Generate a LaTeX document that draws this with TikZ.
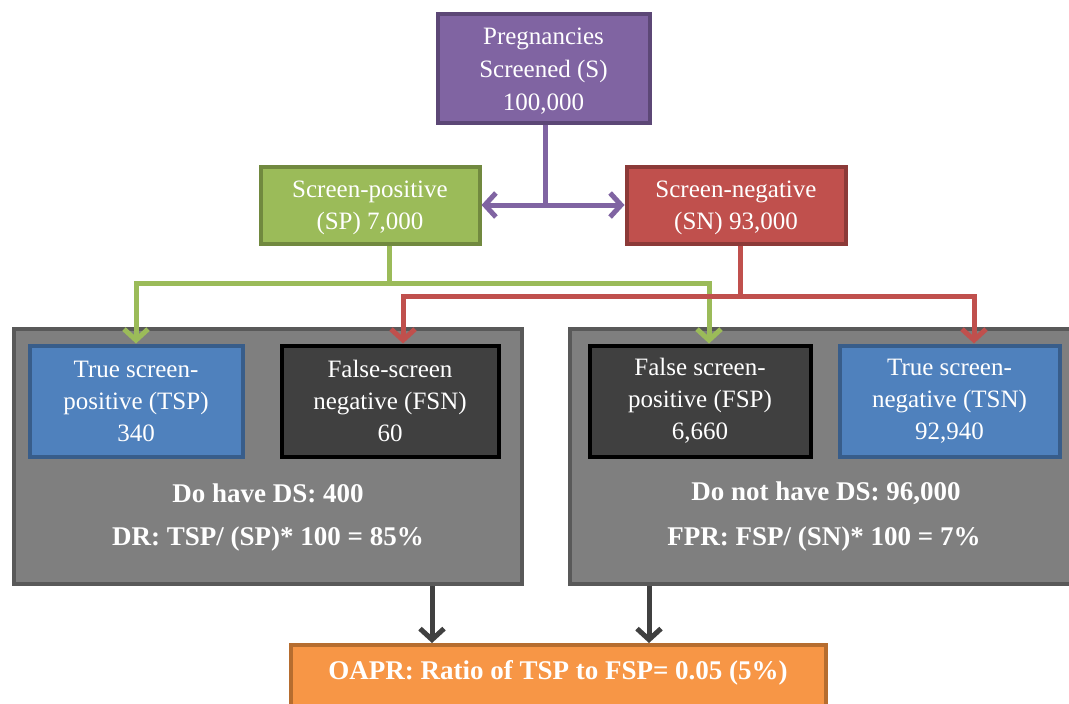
\documentclass[tikz,border=0pt]{standalone}
\usepackage{fontspec}
\setmainfont{Liberation Serif}
\usetikzlibrary{arrows.meta}
\definecolor{purF}{HTML}{8064A2}\definecolor{purD}{HTML}{5C4776}
\definecolor{grnF}{HTML}{9BBB59}\definecolor{grnD}{HTML}{71893F}
\definecolor{redF}{HTML}{C0504D}\definecolor{redD}{HTML}{8C3A38}
\definecolor{bluF}{HTML}{4F81BD}\definecolor{bluD}{HTML}{385D8A}
\definecolor{drkF}{HTML}{404040}
\definecolor{gryF}{HTML}{7F7F7F}\definecolor{gryD}{HTML}{595959}
\definecolor{orgF}{HTML}{F79646}\definecolor{orgD}{HTML}{B66D2F}
\tikzset{
  box/.style={draw, line width=4pt, text=white, align=center, inner sep=0pt,
    font=\fontsize{25}{32}\selectfont},
  boxtxt/.style={text=white, align=center, inner sep=0pt, font=\fontsize{25}{32}\selectfont},
  bigbox/.style={draw=gryD, fill=gryF, line width=4pt, inner sep=0pt},
  boldtxt/.style={text=white, inner sep=0pt, font=\fontsize{27}{30}\selectfont\bfseries},
  tip/.tip={Straight Barb[length=11pt,width=24pt]},
  conn/.style={line width=5pt, -tip},
  link/.style={line width=5pt}
}
\begin{document}
\begin{tikzpicture}[x=1pt,y=-1pt]
\useasboundingbox (0,0) rectangle (1069,704);
\clip (0,0) rectangle (1069,704);
\fill[white] (0,0) rectangle (1069,704);
% top
\node[box, draw=purD, fill=purF, minimum width=212, minimum height=109] (preg) at (543.5,68) {};
\node[boxtxt, font=\fontsize{25}{33}\selectfont] (pregtxt) at ([yshift=-3]preg.center)
  {Pregnancies\\Screened (S)\\100,000};
\node[box, draw=grnD, fill=grnF, minimum width=219, minimum height=77] (sp) at (370,205) {};
\node[boxtxt] (sptxt) at ([yshift=-3]sp.center) {Screen-positive\\(SP) 7,000};
\node[box, draw=redD, fill=redF, minimum width=219, minimum height=77] (sn) at (736,205) {};
\node[boxtxt] (sntxt) at ([yshift=-3]sn.center) {Screen-negative\\(SN) 93,000};
% large gray boxes
\node[bigbox, minimum width=508, minimum height=255] (left) at (267.5,456) {};
\node[bigbox, minimum width=520, minimum height=255] (right) at (830,456) {};
% inner boxes
\node[box, draw=bluD, fill=bluF, minimum width=213, minimum height=111] (tsp) at (136,401)
  {True screen-\\positive (TSP)\\340};
\node[box, draw=black, fill=drkF, minimum width=217, minimum height=111] (fsn) at (390,401)
  {False-screen\\negative (FSN)\\60};
\node[box, draw=black, fill=drkF, minimum width=221, minimum height=111] (fsp) at (700,401)
  {False screen-\\positive (FSP)\\6,660};
\node[box, draw=bluD, fill=bluF, minimum width=220, minimum height=111] (tsn) at (949.5,401)
  {True screen-\\negative (TSN)\\92,940};
% bold texts
\node[boldtxt] (dohave) at (268,493) {Do have DS: 400};
\node[boldtxt] (dr) at (268,539) {DR: TSP/ (SP)* 100 = 85\%};
\node[boldtxt] (donot) at (826,493) {Do not have DS: 96,000};
\node[boldtxt] (fpr) at (824,539) {FPR: FSP/ (SN)* 100 = 7\%};
% bottom orange
\node[box, draw=orgD, fill=orgF, minimum width=535, minimum height=80, anchor=north] (oapr) at (558,643) {};
\node[boldtxt] (oaprtxt) at (558,673) {OAPR: Ratio of TSP to FSP= 0.05 (5\%)};
% purple connectors
\coordinate (pj) at (545,205);
\draw[link, purF] ([xshift=1.5]preg.south) -- (pj);
\draw[conn, purF, tip-tip] (sp.east) -- (sn.west);
% green connectors
\coordinate (gj) at (389,283);
\draw[link, grnF] ([xshift=19]sp.south) -- (gj);
\draw[conn, grnF] (gj) -| (tsp.north);
\draw[conn, grnF] (gj) -| ([xshift=9]fsp.north);
% red connectors
\coordinate (rj) at (740,296);
\draw[link, redF] ([xshift=4]sn.south) -- (rj);
\draw[conn, redF] (rj) -| ([xshift=13]fsn.north);
\draw[conn, redF] (rj) -| ([xshift=24.5]tsn.north);
% to OAPR
\draw[conn, drkF] ([xshift=164.5]left.south) -- ([xshift=164.5]left.south |- oapr.north);
\draw[conn, drkF] ([xshift=-181]right.south) -- ([xshift=-181]right.south |- oapr.north);
\end{tikzpicture}
\end{document}
